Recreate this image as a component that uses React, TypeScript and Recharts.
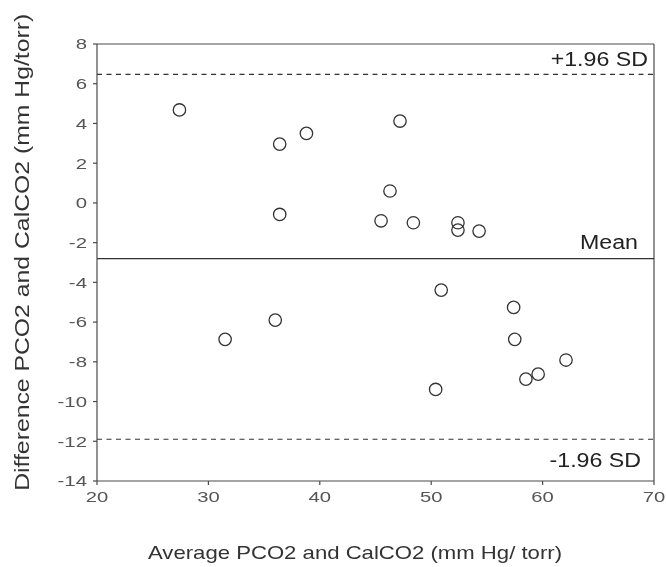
import React from "react";
import {
  ScatterChart,
  Scatter,
  XAxis,
  YAxis,
  ReferenceLine,
  Label,
} from "recharts";

// ---- data ----
const averageValues = [27.4, 36.4, 38.8, 36.4, 45.5, 46.3, 47.2, 48.4, 52.4, 52.4, 54.3, 31.5, 36.0, 50.9, 57.4, 57.5, 62.1, 59.6, 58.5, 50.4];
const differenceValues = [4.68, 2.96, 3.5, -0.58, -0.9, 0.6, 4.12, -1.0, -1.0, -1.37, -1.42, -6.87, -5.9, -4.39, -5.26, -6.87, -7.91, -8.62, -8.87, -9.39];
const xTicks = [20, 30, 40, 50, 60, 70];
const yTicks = [-14, -12, -10, -8, -6, -4, -2, 0, 2, 4, 6, 8];
const meanDifference = -2.8;
const upperLimit = 6.47;
const lowerLimit = -11.9;
const upperLabel = "+1.96 SD";
const meanLabel = "Mean";
const lowerLabel = "-1.96 SD";
const xTitle = "Average PCO2 and CalCO2 (mm Hg/ torr)";
const yTitle = "Difference PCO2 and CalCO2 (mm Hg/torr)";

const points = averageValues.map((a, i) => ({ avg: a, diff: differenceValues[i] }));

const FONT = "'Liberation Sans', Arial, Helvetica, sans-serif";
const AXIS = "#4a4a4a";

function StretchText({ x, y, sx = 1, angle = 0, anchor = "middle", size = 15, fill = "#333", text }: any) {
  return (
    <text
      transform={`translate(${x},${y}) rotate(${angle}) scale(${sx},1)`}
      x={0}
      y={0}
      textAnchor={anchor}
      fontSize={size}
      fill={fill}
      fontFamily={FONT}
    >
      {text}
    </text>
  );
}

const YTick = (p: any) => (
  <StretchText x={p.x} y={p.y + 5.4} sx={1.36} anchor="end" size={15} fill="#555" text={String(p.payload.value)} />
);
const XTick = (p: any) => (
  <StretchText x={p.x} y={p.y + 10.8} sx={1.35} anchor="middle" size={15} fill="#555" text={String(p.payload.value)} />
);

const XTitle = (p: any) => {
  const vb = p.viewBox || {};
  return <StretchText x={vb.x + vb.width / 2 - 20.5} y={vb.y + 78.3} sx={1.19} size={18.6} fill="#333" text={xTitle} />;
};
const YTitle = (p: any) => {
  const vb = p.viewBox || {};
  return <StretchText x={vb.x - 7.7} y={vb.y + vb.height / 2 - 10.2} angle={-90} sx={1.18} size={21} fill="#333" text={yTitle} />;
};

const lineLabel = (text: string, dxFromRight: number, dy: number) => (p: any) => {
  const vb = p.viewBox || {};
  return <StretchText x={vb.x + vb.width - dxFromRight} y={vb.y + dy} sx={1.16} anchor="end" size={20} fill="#222" text={text} />;
};

const Marker = (p: any) => (
  <circle cx={p.cx} cy={p.cy} r={6.2} fill="none" stroke="#333" strokeWidth={1.3} />
);

export default function App() {
  return (
    <div style={{ position: "fixed", left: 8, top: 8, width: 658, height: 559 }}>
      <ScatterChart width={658} height={559} margin={{ top: 36, right: 12, bottom: 56, left: 29 }}>
        <XAxis
          type="number"
          dataKey="avg"
          domain={[xTicks[0], xTicks[xTicks.length - 1]]}
          ticks={xTicks}
          height={30}
          tickSize={4}
          tickMargin={6}
          tick={XTick}
          stroke={AXIS}
          strokeWidth={1.2}
          label={<Label content={XTitle} />}
        />
        <YAxis
          type="number"
          dataKey="diff"
          domain={[yTicks[0], yTicks[yTicks.length - 1]]}
          ticks={yTicks}
          width={60}
          tickSize={4}
          tickMargin={6}
          tick={YTick}
          stroke={AXIS}
          strokeWidth={1.2}
          label={<Label content={YTitle} />}
        />
        <ReferenceLine y={yTicks[yTicks.length - 1]} stroke={AXIS} strokeWidth={1.2} />
        <ReferenceLine x={xTicks[xTicks.length - 1]} stroke={AXIS} strokeWidth={1.2} />
        <ReferenceLine y={upperLimit} stroke="#333" strokeWidth={1.1} strokeDasharray="5 4.5" label={<Label content={lineLabel(upperLabel, 6, -8)} />} />
        <ReferenceLine y={meanDifference} stroke="#333" strokeWidth={1.2} label={<Label content={lineLabel(meanLabel, 16, -9.5)} />} />
        <ReferenceLine y={lowerLimit} stroke="#333" strokeWidth={1.1} strokeDasharray="5 4.5" label={<Label content={lineLabel(lowerLabel, 13, 28)} />} />
        <Scatter data={points} shape={Marker} isAnimationActive={false} />
      </ScatterChart>
    </div>
  );
}
